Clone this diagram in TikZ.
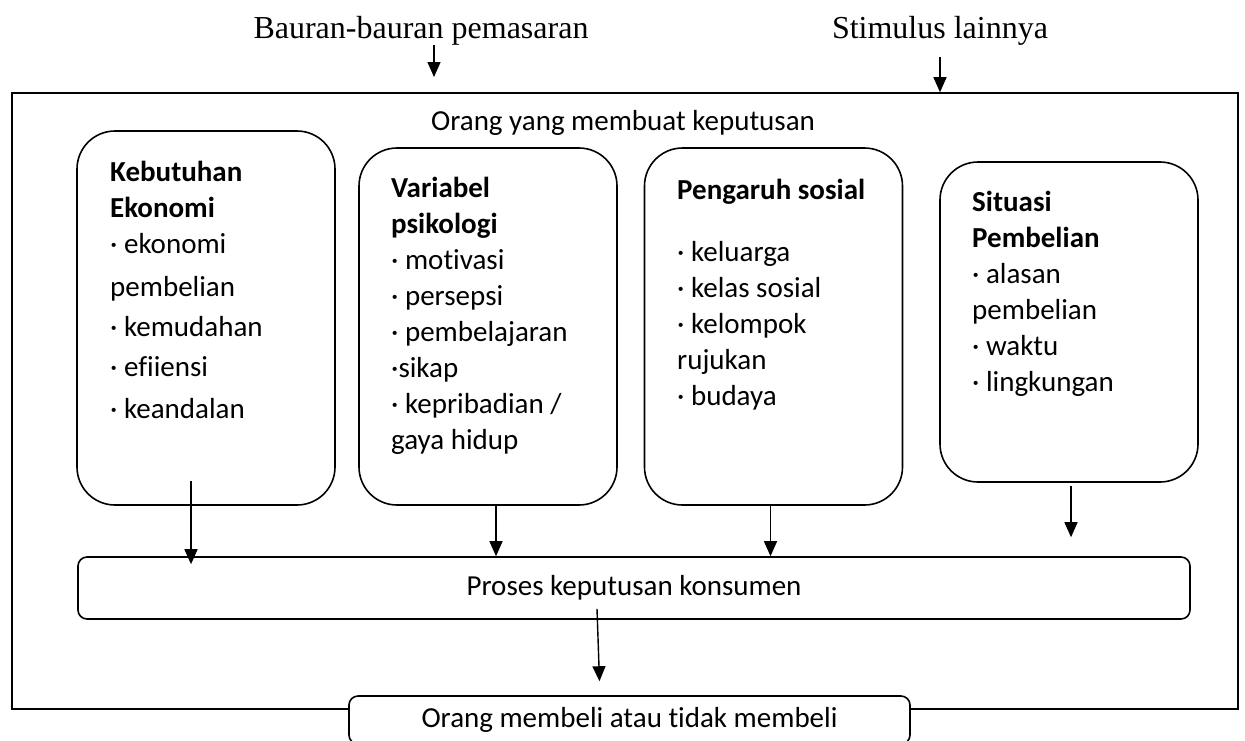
\documentclass[tikz,border=0pt]{standalone}
\usepackage{fontspec}
\setmainfont{Carlito}[Ligatures=NoCommon]
\newfontfamily\timesrm{Liberation Serif}
\usetikzlibrary{arrows.meta}

\begin{document}
\begin{tikzpicture}[x=1pt, y=-1pt, font=\fontsize{29}{36}\selectfont,
  box/.style={draw, line width=1.6pt, rounded corners=38pt, minimum width=258pt},
  flat/.style={draw, line width=1.6pt, rounded corners=9pt},
  txt/.style={anchor=north west, align=left, inner sep=0pt},
  title/.style={anchor=base, font=\timesrm\fontsize{32}{38}\selectfont},
  arr/.style={-{Triangle[length=15pt,width=13pt]}, line width=1.4pt}]
  \useasboundingbox (0,0) rectangle (1245,740);

  \node[title] (B) at (421,38) {Bauran-bauran pemasaran};
  \node[title] (St) at (940,38) {Stimulus lainnya};

  \node[draw, line width=1.6pt, minimum width=1226pt, minimum height=616pt] (M) at (625,401) {};
  \node (m) at (623,123) {Orang yang membuat keputusan};

  \node[box, minimum height=374pt] (E) at (206,318) {};
  \node[txt] (e) at (110,161) {\textbf{Kebutuhan}\\\textbf{Ekonomi}\\· ekonomi\\[7pt]pembelian\\[4pt]· kemudahan\\[4pt]· efiiensi\\[6pt]· keandalan};
  \node[box, minimum height=357pt] (P) at (488,326.5) {};
  \node[txt] (p) at (391,177) {\textbf{Variabel}\\\textbf{psikologi}\\· motivasi\\· persepsi\\· pembelajaran\\·sikap\\· kepribadian /\\gaya hidup};
  \node[box, minimum height=357pt] (S) at (773.5,326.5) {};
  \node[txt] (s) at (677,179) {\textbf{Pengaruh sosial}\\[26pt]· keluarga\\· kelas sosial\\· kelompok\\rujukan\\· budaya};
  \node[box, minimum height=320pt] (T) at (1069,322) {};
  \node[txt] (t) at (972,191) {\textbf{Situasi}\\\textbf{Pembelian}\\· alasan\\pembelian\\· waktu\\· lingkungan};

  \node[flat, minimum width=1112pt, minimum height=62pt] (K) at (634,588) {Proses keputusan konsumen};
  \node[flat, fill=white, minimum width=561pt, minimum height=48pt] (O) at (629.5,720) {Orang membeli atau tidak membeli};

  % arrows from outside
  \coordinate (b1) at (434,45);
  \coordinate (b2) at (434,77);
  \coordinate (s1) at (940,57);
  \draw[arr] (b1) -- (b2);
  \draw[arr] (s1) -- (s1 |- M.north);

  % arrows into the process
  \draw[arr] ([xshift=-15pt,yshift=25pt]E.south) -- ([xshift=-15pt,yshift=-8pt]E.south |- K.north);
  \draw[arr] ([xshift=8pt]P.south) -- ([xshift=8pt]P.south |- K.north);
  \draw[arr] ([xshift=-3pt]S.south) -- ([xshift=-3pt]S.south |- K.north);
  \draw[arr] ([xshift=2pt,yshift=-3pt]T.south) -- ([xshift=2pt,yshift=19pt]T.south |- K.north);
  \draw[arr] ([xshift=-37pt,yshift=11pt]K.south) -- ([xshift=-30pt,yshift=14pt]O.north);
\end{tikzpicture}
\end{document}
